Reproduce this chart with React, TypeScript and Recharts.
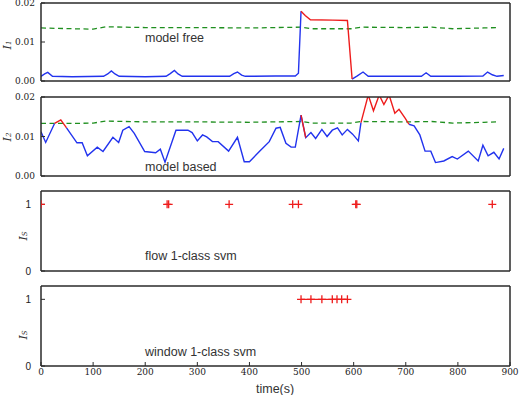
import React from 'react';
import { LineChart, Line, XAxis, YAxis } from 'recharts';

// shared time axis
const TIME_TICKS = [0, 100, 200, 300, 400, 500, 600, 700, 800, 900];

// panel 1: model free
const freeT = [0, 7, 13, 22, 60, 120, 128, 135, 142, 150, 200, 240, 248, 256, 263, 271, 330, 362, 370, 377, 385, 392, 450, 488, 494, 499, 507, 517, 560, 588, 597, 607, 618, 628, 680, 730, 739, 748, 800, 848, 857, 866, 875, 888];
const freeV = [0.0012, 0.0018, 0.0022, 0.0012, 0.0011, 0.0012, 0.0018, 0.0026, 0.0018, 0.0012, 0.0011, 0.0012, 0.0019, 0.0027, 0.0018, 0.0012, 0.0012, 0.0012, 0.0019, 0.0023, 0.0015, 0.0012, 0.0013, 0.0013, 0.002, 0.0179, 0.0168, 0.0157, 0.0156, 0.0155, 0.0005, 0.0013, 0.0023, 0.0012, 0.0012, 0.0012, 0.0021, 0.0012, 0.0012, 0.0013, 0.0023, 0.0016, 0.0012, 0.0014];
const freeThT = [0, 60, 100, 125, 200, 300, 400, 500, 520, 560, 595, 615, 700, 750, 790, 850, 878];
const freeThV = [0.0136, 0.0134, 0.0133, 0.0139, 0.0137, 0.0137, 0.0136, 0.0138, 0.0134, 0.0134, 0.0134, 0.0138, 0.0137, 0.0138, 0.0134, 0.0136, 0.0137];
const freeRed = [[499, 597]];

// panel 2: model based
const basedT = [0, 9, 26, 38, 49, 69, 79, 89, 108, 119, 138, 149, 157, 169, 179, 199, 220, 229, 238, 259, 282, 290, 300, 310, 318, 329, 340, 360, 377, 390, 400, 419, 438, 451, 459, 470, 480, 488, 499, 508, 518, 527, 539, 549, 559, 569, 578, 588, 598, 609, 614, 628, 638, 649, 658, 668, 679, 687, 699, 706, 716, 727, 737, 748, 757, 773, 789, 799, 820, 839, 848, 858, 869, 879, 888];
const basedV = [0.0112, 0.0085, 0.0133, 0.0142, 0.0122, 0.0084, 0.0084, 0.0051, 0.0073, 0.0062, 0.0098, 0.0085, 0.0116, 0.0125, 0.0108, 0.0062, 0.0059, 0.0068, 0.0035, 0.0116, 0.0116, 0.011, 0.0089, 0.0104, 0.0099, 0.0087, 0.0087, 0.0063, 0.0098, 0.0036, 0.0036, 0.0062, 0.0087, 0.0121, 0.0123, 0.0083, 0.0073, 0.0073, 0.0154, 0.0097, 0.011, 0.0095, 0.0118, 0.01, 0.0116, 0.0122, 0.0104, 0.0118, 0.0106, 0.0089, 0.0135, 0.0205, 0.0165, 0.0205, 0.0181, 0.0205, 0.0159, 0.0169, 0.0146, 0.0131, 0.0127, 0.0104, 0.0063, 0.0063, 0.0034, 0.0038, 0.0049, 0.0043, 0.0063, 0.0038, 0.0078, 0.0051, 0.006, 0.0043, 0.007];
const basedThT = [0, 60, 100, 125, 200, 300, 400, 500, 520, 560, 595, 615, 700, 750, 790, 850, 878];
const basedThV = [0.0133, 0.0133, 0.0134, 0.0139, 0.0137, 0.0137, 0.0136, 0.0138, 0.0134, 0.0134, 0.0134, 0.0138, 0.0137, 0.0138, 0.0134, 0.0136, 0.0137];
const basedRed = [[26, 49], [499, 508], [614, 706]];

// panels 3 and 4: detections
const flowEvents = [0, 242, 245, 361, 483, 494, 604, 606, 866];
const windowEvents = [499, 518, 539, 559, 568, 577, 588];

const FRAME = '#2a2a2a';
const BLUE = '#2233ee';
const RED = '#ee1c1c';
const GREEN = '#1f8f1f';

const toPts = (ts: number[], vs: number[]) => ts.map((t, i) => ({ t, v: vs[i] }));

// blue trace, broken inside the alarm spans
const bluePts = (ts: number[], vs: number[], spans: number[][]) =>
  ts.map((t, i) => ({ t, v: spans.some(([a, b]) => t > a && t < b) ? null : vs[i] }));

// red trace, only inside the alarm spans
const redPts = (ts: number[], vs: number[], spans: number[][]) => {
  const out: { t: number; v: number | null }[] = [];
  spans.forEach(([a, b]) => {
    ts.forEach((t, i) => {
      if (t >= a && t <= b) out.push({ t, v: vs[i] });
    });
    out.push({ t: b + 0.5, v: null });
  });
  return out;
};

const plus = (size: number) => (props: any) => {
  const { cx, cy, index } = props;
  if (cx == null || cy == null) return <g key={index} />;
  return (
    <path
      key={index}
      d={`M${cx - size},${cy}H${cx + size}M${cx},${cy - size}V${cy + size}`}
      stroke={RED}
      strokeWidth={1.3}
      fill="none"
    />
  );
};

const serifTick = { fontFamily: 'DejaVu Serif', fontSize: 9, fill: '#222' };
const sansTick = { fontFamily: 'Liberation Sans', fontSize: 10, fill: '#222' };
const axisLine = { stroke: FRAME, strokeWidth: 1.5 };
const tickLine = { stroke: FRAME };

const frame = (
  yDomain: number[],
  yTicks: number[],
  fmt: (v: number) => string,
  showX: boolean,
  yTick: any,
  yMargin: number,
) => [
  <XAxis
    key="xb"
    xAxisId="b"
    dataKey="t"
    type="number"
    domain={[0, 900]}
    ticks={TIME_TICKS}
    interval={0}
    allowDataOverflow
    height={showX ? 28 : 1}
    tickSize={-4}
    tickMargin={7}
    tick={showX ? serifTick : false}
    axisLine={axisLine}
    tickLine={tickLine}
  />,
  <XAxis
    key="xt"
    xAxisId="t"
    orientation="top"
    type="number"
    domain={[0, 900]}
    ticks={TIME_TICKS}
    interval={0}
    allowDataOverflow
    height={1}
    tickSize={-4}
    tick={false}
    axisLine={axisLine}
    tickLine={tickLine}
  />,
  <YAxis
    key="yl"
    yAxisId="l"
    type="number"
    domain={yDomain}
    ticks={yTicks}
    interval={0}
    allowDataOverflow
    width={41}
    tickSize={-4}
    tickMargin={yMargin}
    tickFormatter={fmt}
    tick={yTick}
    axisLine={axisLine}
    tickLine={tickLine}
  />,
  <YAxis
    key="yr"
    yAxisId="r"
    orientation="right"
    type="number"
    domain={yDomain}
    ticks={yTicks}
    interval={0}
    allowDataOverflow
    width={1}
    tickSize={-4}
    tick={false}
    axisLine={axisLine}
    tickLine={tickLine}
  />,
];

const fmt2 = (v: number) => v.toFixed(2);
const fmt0 = (v: number) => String(v);

const note: React.CSSProperties = {
  position: 'absolute',
  fontFamily: 'Liberation Sans, Arial, sans-serif',
  fontSize: 12.5,
  color: '#333',
  whiteSpace: 'nowrap',
  lineHeight: '14px',
};

const YLabel = ({ x, y, sub }: { x: number; y: number; sub: string }) => (
  <div
    style={{
      position: 'absolute',
      left: x - 20,
      top: y - 8,
      width: 40,
      height: 16,
      textAlign: 'center',
      transform: 'rotate(-90deg)',
      fontFamily: 'DejaVu Serif',
      fontStyle: 'italic',
      fontSize: 11,
      color: '#333',
      lineHeight: '16px',
    }}
  >
    I<span style={{ fontSize: 7 }}>{sub}</span>
  </div>
);

// plot top sits 8px below the chart top, plot right at x = 510
const PAD = 8;
const M = { top: PAD - 1, right: 11, left: 0, bottom: PAD - 1 };

const Panel = ({ plotTop, plotH, showX, children }: { plotTop: number; plotH: number; showX?: boolean; children: React.ReactNode }) => (
  <div style={{ position: 'absolute', left: 0, top: plotTop - PAD }}>
    <LineChart width={522} height={PAD + plotH + (showX ? 28 : PAD)} margin={showX ? { ...M, bottom: 0 } : M}>
      {children}
    </LineChart>
  </div>
);

export default function App() {
  return (
    <div style={{ position: 'absolute', left: 0, top: 0, width: 522, height: 395, background: '#fff', overflow: 'hidden' }}>
      <Panel plotTop={3} plotH={78}>
        {frame([0, 0.02], [0, 0.01, 0.02], fmt2, false, serifTick, 10)}
        <Line xAxisId="b" yAxisId="l" data={toPts(freeThT, freeThV)} dataKey="v" stroke={GREEN} strokeWidth={1.3} strokeDasharray="5 3.5" dot={false} isAnimationActive={false} />
        <Line xAxisId="b" yAxisId="l" data={bluePts(freeT, freeV, freeRed)} dataKey="v" stroke={BLUE} strokeWidth={1.4} dot={false} isAnimationActive={false} />
        <Line xAxisId="b" yAxisId="l" data={redPts(freeT, freeV, freeRed)} dataKey="v" stroke={RED} strokeWidth={1.4} dot={false} isAnimationActive={false} />
      </Panel>
      <Panel plotTop={97} plotH={79}>
        {frame([0, 0.02], [0, 0.01, 0.02], fmt2, false, serifTick, 10)}
        <Line xAxisId="b" yAxisId="l" data={toPts(basedThT, basedThV)} dataKey="v" stroke={GREEN} strokeWidth={1.3} strokeDasharray="5 3.5" dot={false} isAnimationActive={false} />
        <Line xAxisId="b" yAxisId="l" data={bluePts(basedT, basedV, basedRed)} dataKey="v" stroke={BLUE} strokeWidth={1.4} dot={false} isAnimationActive={false} />
        <Line xAxisId="b" yAxisId="l" data={redPts(basedT, basedV, basedRed)} dataKey="v" stroke={RED} strokeWidth={1.4} dot={false} isAnimationActive={false} />
      </Panel>
      <Panel plotTop={191} plotH={80}>
        {frame([0, 1.2], [0, 1], fmt0, false, sansTick, 14)}
        <Line xAxisId="b" yAxisId="l" data={flowEvents.map((t) => ({ t, v: 1 }))} dataKey="v" stroke="none" dot={plus(4)} isAnimationActive={false} />
      </Panel>
      <Panel plotTop={286} plotH={80} showX>
        {frame([0, 1.2], [0, 1], fmt0, true, sansTick, 14)}
        <Line xAxisId="b" yAxisId="l" data={windowEvents.map((t) => ({ t, v: 1 }))} dataKey="v" stroke={RED} strokeWidth={1.3} dot={plus(4)} isAnimationActive={false} />
      </Panel>

      <div style={{ ...note, left: 145, top: 31 }}>model free</div>
      <div style={{ ...note, left: 145, top: 160 }}>model based</div>
      <div style={{ ...note, left: 145, top: 249 }}>flow 1-class svm</div>
      <div style={{ ...note, left: 145, top: 345 }}>window 1-class svm</div>
      <div style={{ ...note, left: 256, top: 382 }}>time(s)</div>

      <YLabel x={8} y={45} sub="1" />
      <YLabel x={8} y={137} sub="2" />
      <YLabel x={24} y={236} sub="S" />
      <YLabel x={24} y={335} sub="S" />
    </div>
  );
}
